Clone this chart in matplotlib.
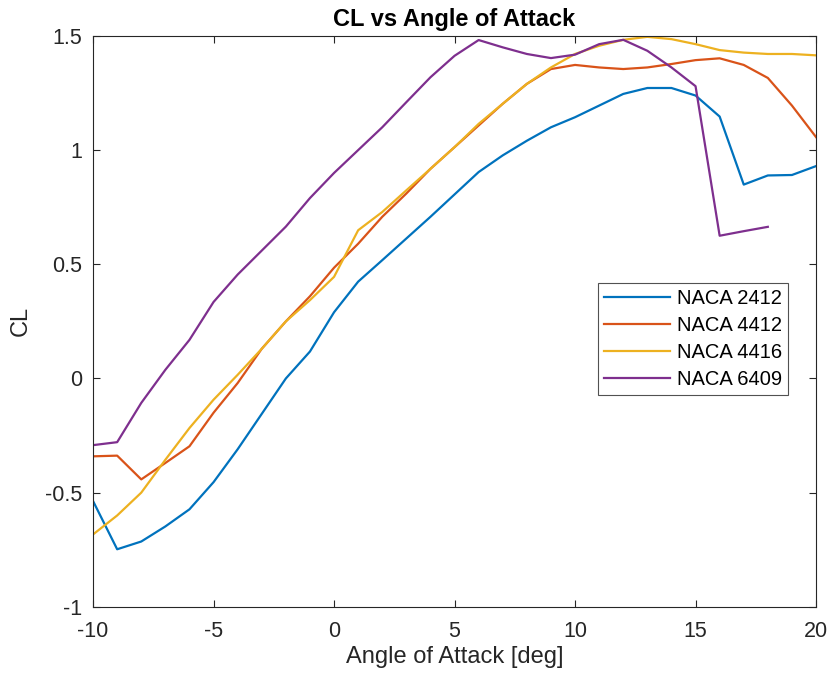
import numpy as np
import matplotlib
matplotlib.use("Agg")
import matplotlib.pyplot as plt

# angle of attack, deg
alpha = list(range(-10, 21))

cl_2412 = [-0.537, -0.748, -0.714, -0.648, -0.573, -0.454, -0.31, -0.155, 0.0, 0.118,
           0.29, 0.424, 0.518, 0.613, 0.708, 0.806, 0.904, 0.977, 1.041, 1.10,
           1.144, 1.195, 1.246, 1.272, 1.272, 1.239, 1.147, 0.849, 0.889, 0.891, 0.930]
cl_4412 = [-0.341, -0.338, -0.442, -0.37, -0.297, -0.15, -0.02, 0.13, 0.25, 0.36,
           0.485, 0.59, 0.708, 0.81, 0.918, 1.013, 1.108, 1.203, 1.29, 1.355,
           1.373, 1.362, 1.355, 1.362, 1.377, 1.394, 1.402, 1.373, 1.316, 1.195, 1.057]
cl_4416 = [-0.683, -0.6, -0.5, -0.356, -0.217, -0.093, 0.016, 0.13, 0.25, 0.343,
           0.445, 0.649, 0.729, 0.824, 0.918, 1.013, 1.115, 1.203, 1.29, 1.362,
           1.421, 1.457, 1.483, 1.496, 1.486, 1.464, 1.438, 1.427, 1.421, 1.421, 1.415]
# 6409 data stops at 18 deg
alpha_6409 = list(range(-10, 19))
cl_6409 = [-0.292, -0.279, -0.107, 0.038, 0.169, 0.335, 0.455, 0.56, 0.665, 0.79,
           0.9, 1.0, 1.10, 1.21, 1.319, 1.413, 1.482, 1.45, 1.421, 1.403,
           1.418, 1.464, 1.483, 1.435, 1.362, 1.28, 0.625, 0.645, 0.664]

names = ["NACA 2412", "NACA 4412", "NACA 4416", "NACA 6409"]
colors = ["#0072BD", "#D95319", "#EDB120", "#7E2F8E"]

xticks = [-10, -5, 0, 5, 10, 15, 20]
yticks = [-1, -0.5, 0, 0.5, 1, 1.5]

plt.rcParams['font.family'] = ['Liberation Sans', 'DejaVu Sans']

fig = plt.figure(figsize=(8.31, 6.78), dpi=100)
ax = fig.add_axes([0.112, 0.105, 0.870, 0.842])

ax.plot(alpha, cl_2412, color=colors[0], lw=1.6, label=names[0])
ax.plot(alpha, cl_4412, color=colors[1], lw=1.6, label=names[1])
ax.plot(alpha, cl_4416, color=colors[2], lw=1.6, label=names[2])
ax.plot(alpha_6409, cl_6409, color=colors[3], lw=1.6, label=names[3])

ax.set_xlim(-10, 20)
ax.set_ylim(-1, 1.5)
ax.set_xticks(xticks)
ax.set_xticklabels([str(t) for t in xticks])
ax.set_yticks(yticks)
ax.set_yticklabels([f"{t:g}" for t in yticks])
ax.tick_params(direction='in', top=True, right=True, labelsize=15.5,
               colors='#262626', length=5, width=0.8)
ax.tick_params(axis='x', pad=10)
ax.tick_params(axis='y', pad=8)
for s in ax.spines.values():
    s.set_color('#262626')
    s.set_linewidth(0.8)

ax.set_xlabel("Angle of Attack [deg]", fontsize=17, color='#262626', labelpad=3)
ax.set_ylabel("CL", fontsize=17, color='#262626', labelpad=9)
ax.set_title("CL vs Angle of Attack", fontsize=17, fontweight='bold', pad=7)

leg = ax.legend(loc='upper left', bbox_to_anchor=(0.698, 0.567), fontsize=14.5,
                frameon=True, fancybox=False, edgecolor='#262626',
                handlelength=3.3, borderpad=0.3, labelspacing=0.4,
                handletextpad=0.35, borderaxespad=0)
leg.get_frame().set_linewidth(0.8)

fig.savefig("out.png", dpi=100)
